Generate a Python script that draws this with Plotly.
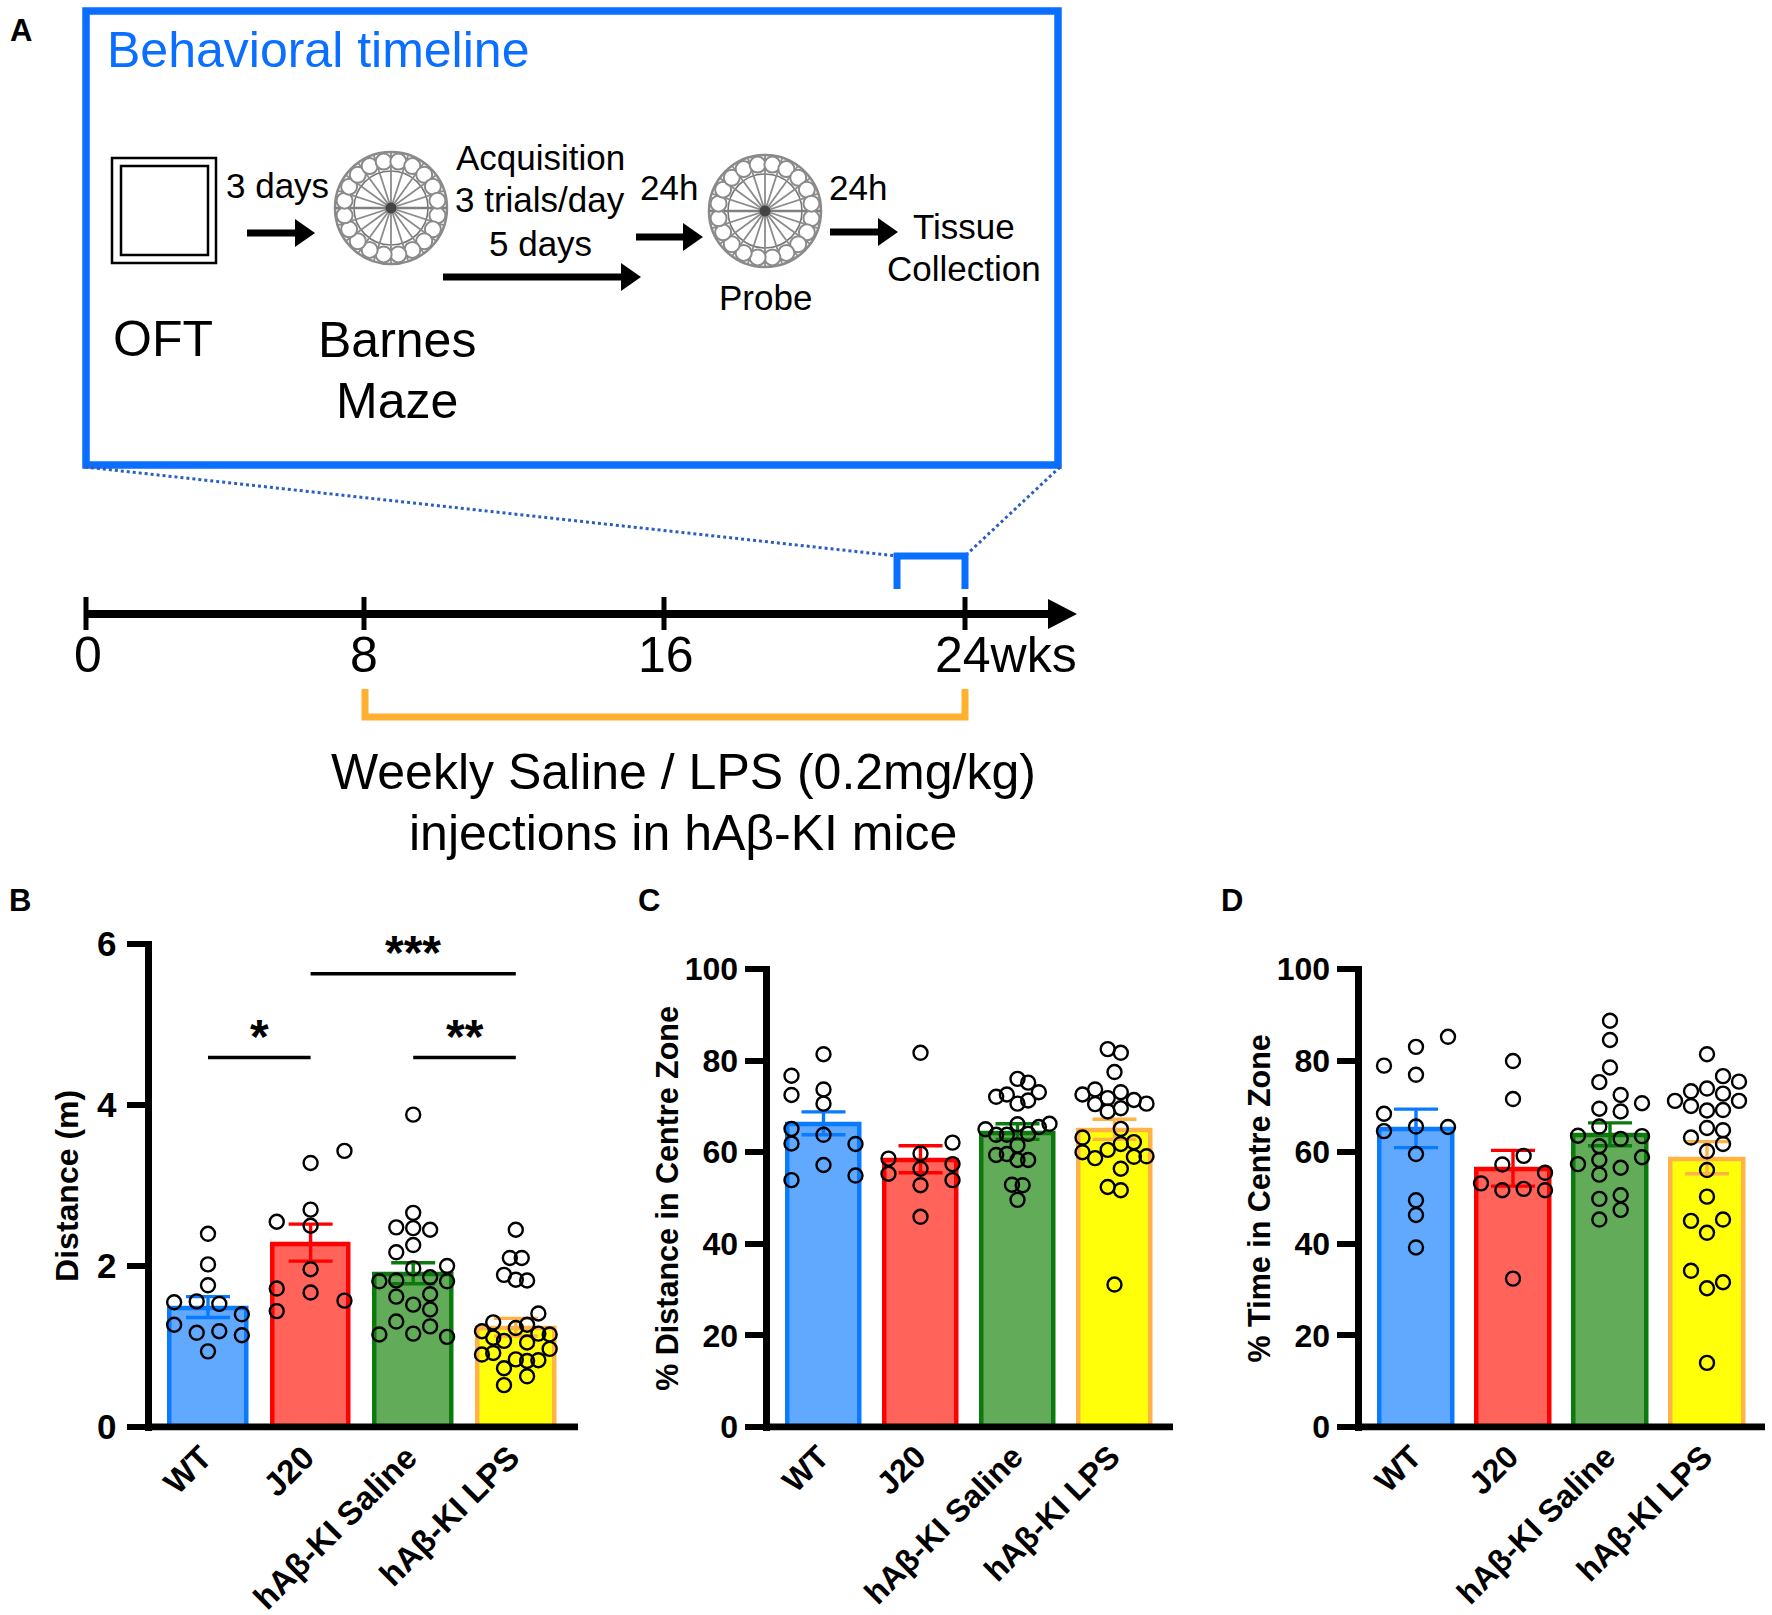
import math
import plotly.graph_objects as go

W, H = 1772, 1615

# ---------- data ----------
categories = ["WT", "J20", "hAβ-KI Saline", "hAβ-KI LPS"]

dist_means = [1.47, 2.27, 1.90, 1.23]
dist_low = [1.36, 2.06, 1.78, 1.13]
dist_high = [1.62, 2.52, 2.04, 1.35]
dist_wt_y = [2.40, 2.02, 1.76, 1.55, 1.56, 1.53, 1.40, 1.27, 1.17, 1.19, 1.14, 0.94]
dist_wt_off = [0, 0, 0, -.33, -.11, .11, .33, -.33, -.11, .11, .33, 0]
dist_j20_y = [3.43, 3.28, 2.70, 2.55, 2.50, 1.96, 1.72, 1.67, 1.57, 1.44]
dist_j20_off = [.33, 0, 0, -.33, 0, 0, -.33, 0, .33, -.33]
dist_sal_y = [3.88, 2.66, 2.48, 2.47, 2.45, 2.26, 2.17, 1.97, 2.00, 1.81, 1.82, 1.86, 1.81, 1.62, 1.65, 1.52, 1.46, 1.31, 1.25, 1.15, 1.16, 1.12]
dist_sal_off = [0, 0, -.165, 0, .165, 0, -.165, 0, .33, -.33, -.165, .165, .33, -.165, .165, 0, .165, -.165, .165, -.33, 0, .33]
dist_lps_y = [2.45, 2.10, 2.10, 1.89, 1.83, 1.82, 1.41, 1.30, 1.23, 1.27, 1.19, 1.16, 1.15, 1.11, 1.07, 1.05, .90, .92, .97, .84, .82, .83, .73, .63, .52]
dist_lps_off = [0, -.058, .058, -.115, 0, .11, .22, -.22, 0, .11, -.33, .22, .33, -.22, -.115, .11, -.33, -.22, .33, 0, .11, .22, -.115, .11, -.115]

cdist_means = [66.0, 58.2, 64.2, 64.8]
cdist_low = [63.8, 55.5, 62.8, 62.8]
cdist_high = [68.8, 61.4, 66.2, 67.2]
cdist_wt_y = [81.4, 76.7, 72.5, 73.7, 70.6, 65.1, 61.9, 63.8, 61.8, 57.2, 53.9, 54.9]
cdist_wt_off = [0, -.33, -.33, 0, 0, -.33, -.33, 0, .33, 0, -.33, .33]
cdist_j20_y = [81.7, 62.1, 59.7, 58.6, 57.4, 56.4, 55.3, 53.9, 52.8, 45.9]
cdist_j20_off = [0, .33, 0, -.33, .33, 0, -.33, .33, 0, 0]
cdist_sal_y = [76.0, 75.2, 73.1, 72.6, 72.1, 71.3, 70.6, 66.2, 66.1, 65.5, 65.0, 63.8, 63.8, 64.0, 61.5, 59.4, 59.6, 58.3, 58.3, 52.9, 52.8, 49.6]
cdist_sal_off = [0, .11, .22, -.11, -.22, .11, 0, .33, 0, .22, -.33, -.22, -.11, .11, 0, -.22, -.11, 0, .11, -.057, .053, 0]
cdist_lps_y = [82.5, 81.7, 77.5, 73.7, 72.6, 73.1, 71.8, 71.4, 70.5, 70.6, 69.6, 68.9, 65.1, 63.2, 62.2, 61.8, 60.5, 60.0, 58.7, 59.0, 59.1, 56.4, 52.4, 51.7, 31.1]
cdist_lps_off = [-.07, .065, 0, -.2, -.33, .065, -.07, .2, -.2, .33, .065, -.07, .065, -.33, .2, .065, -.07, -.33, -.2, .2, .33, .065, -.07, .065, 0]

ctime_means = [65.0, 56.2, 63.6, 58.5]
ctime_low = [61.0, 52.6, 61.4, 55.3]
ctime_high = [69.4, 60.4, 66.4, 62.3]
ctime_wt_y = [85.2, 83.0, 78.9, 76.9, 68.4, 64.6, 65.6, 65.5, 59.6, 49.5, 46.3, 39.2]
ctime_wt_off = [.33, 0, -.33, 0, -.33, -.33, 0, .33, 0, 0, 0, 0]
ctime_j20_y = [79.9, 71.6, 59.2, 57.3, 55.5, 53.2, 51.7, 52.0, 51.7, 32.4]
ctime_j20_off = [0, 0, .11, -.11, .33, -.33, -.11, .11, .33, 0]
ctime_sal_y = [88.7, 84.5, 78.5, 75.3, 72.5, 70.7, 69.5, 68.9, 65.6, 63.6, 62.9, 63.5, 61.3, 58.9, 57.4, 58.3, 56.6, 55.1, 49.8, 50.6, 47.4, 45.3]
ctime_sal_off = [0, 0, 0, -.11, .11, .33, -.11, .11, -.11, -.33, .11, .33, -.11, .33, -.33, -.11, .11, -.11, -.11, .11, .11, -.11]
ctime_lps_y = [81.4, 76.6, 75.4, 73.3, 73.9, 72.8, 71.2, 71.2, 70.1, 69.1, 69.2, 65.3, 64.8, 63.2, 61.8, 60.2, 56.1, 50.3, 45.0, 45.3, 42.4, 34.1, 31.6, 30.3, 14.0]
ctime_lps_off = [0, .165, .33, -.165, 0, .165, -.33, .33, -.165, 0, .165, 0, .165, -.165, .165, 0, 0, 0, -.165, .165, 0, -.165, .165, 0, 0]

sig_pairs = [(1, 3), (0, 1), (2, 3)]
sig_levels = [5.63, 4.59, 4.59]
sig_stars = ["***", "*", "**"]

week_ticks = [0, 8, 16, 24]
week_labels = ["0", "8", "16", "24wks"]

# ---------- styles ----------
FILL = ["#60a9ff", "#ff635a", "#62ab58", "#ffff0a"]
EDGE = ["#0a7aff", "#ff0000", "#0c7a0c", "#ffb347"]
BLUE = "#0a6eff"
ORANGE = "#ffb02e"
FONT = "Liberation Sans"

fig = go.Figure()
shapes, notes = [], []


def px(x):
    return x / W


def py(y):
    return 1 - y / H


def text(s, x, y, size, color="black", bold=False, anchor="center"):
    notes.append(dict(text=s, x=px(x), y=py(y), xref="paper", yref="paper", showarrow=False,
                      xanchor=anchor, yanchor="middle",
                      font=dict(family=FONT, size=size, color=color, weight=700 if bold else 400)))


def line(x0, y0, x1, y1, color="black", width=3, dash=None):
    shapes.append(dict(type="line", xref="paper", yref="paper", x0=px(x0), y0=py(y0), x1=px(x1), y1=py(y1),
                       line=dict(color=color, width=width, dash=dash)))


def rect(x0, y0, x1, y1, color="black", width=3):
    shapes.append(dict(type="rect", xref="paper", yref="paper", x0=px(x0), y0=py(y0), x1=px(x1), y1=py(y1),
                       line=dict(color=color, width=width), fillcolor="rgba(0,0,0,0)"))


def circle(cx, cy, r, color="#777", width=1.5, fill="rgba(0,0,0,0)"):
    shapes.append(dict(type="circle", xref="paper", yref="paper", x0=px(cx - r), x1=px(cx + r),
                       y0=py(cy - r), y1=py(cy + r), line=dict(color=color, width=width), fillcolor=fill))


def poly(points, color="rgba(0,0,0,0)", width=0, fill="black", close=True):
    d = "M " + " L ".join(f"{px(x):.5f},{py(y):.5f}" for x, y in points) + (" Z" if close else "")
    shapes.append(dict(type="path", xref="paper", yref="paper", path=d, fillcolor=fill,
                       line=dict(color=color, width=width)))


def arrow(x0, x1, y, head=20, half=14, width=7):
    line(x0, y, x1 - head + 1, y, width=width)
    poly([(x1 - head, y - half), (x1, y), (x1 - head, y + half)])


def maze(cx, cy):
    R, ring, holes, hr = 56, 37, 47, 8
    circle(cx, cy, R, color="#8a8a8a", width=2.5)
    circle(cx, cy, ring, color="#777", width=1.6)
    d = []
    for i in range(20):
        a = math.radians(i * 18)
        d.append(f"M {px(cx):.5f},{py(cy):.5f} L {px(cx + R * math.cos(a)):.5f},{py(cy + R * math.sin(a)):.5f}")
    shapes.append(dict(type="path", xref="paper", yref="paper", path=" ".join(d), line=dict(color="#8c8c8c", width=1.8)))
    line(cx - R, cy, cx + R, cy, color="#808080", width=2.6)
    for i in range(20):
        a = math.radians(9 + i * 18)
        circle(cx + holes * math.cos(a), cy + holes * math.sin(a), hr, color="#8a8a8a", width=2.0, fill="white")
    circle(cx, cy, 5, color="#444", width=1, fill="#444")


# ---------- panel A ----------
text("A", 21, 31, 31, bold=True)
rect(86, 11, 1058, 465, color=BLUE, width=7.5)
text("Behavioral timeline", 105, 50, 50, color=BLUE, anchor="left")
rect(112, 158, 216, 263, width=2.5)
rect(121, 166, 208, 255, width=2.5)
text("OFT", 163, 339, 50)
text("Barnes", 397, 340, 50)
text("Maze", 397, 401, 50)
text("3 days", 277, 186, 35)
arrow(247, 315, 233)
maze(391, 208)
text("Acquisition", 540, 157, 35)
text("3 trials/day", 540, 200, 35)
text("5 days", 540, 243, 35)
arrow(443, 641, 277)
text("24h", 669, 188, 35)
arrow(636, 703, 237)
maze(765, 211)
text("Probe", 765, 297, 35)
text("24h", 858, 188, 35)
arrow(830, 898, 232)
text("Tissue", 964, 226, 35)
text("Collection", 964, 268, 35)

line(85, 467, 897, 556, color="#2a5fc0", width=3, dash="dot")
line(1060, 467, 965, 556, color="#2a5fc0", width=3, dash="dot")
poly([(897, 589), (897, 556), (965, 556), (965, 589)], color=BLUE, width=7, fill="rgba(0,0,0,0)", close=False)

# timeline: weeks placed along a piecewise scale
week_px = [86, 364, 664, 965]
label_px = [88, 364, 666, 1006]
arrow(86, 1077, 614, head=29, half=15, width=8)
for wk, xp, lp, lab in zip(week_ticks, week_px, label_px, week_labels):
    line(xp, 597, xp, 630, width=5)
    text(lab, lp, 655, 50)
poly([(365, 689), (365, 717), (965, 717), (965, 689)], color=ORANGE, width=7, fill="rgba(0,0,0,0)", close=False)
text("Weekly Saline / LPS (0.2mg/kg)", 683, 772, 50)
text("injections in hAβ-KI mice", 683, 833, 50)

text("B", 20, 901, 31, bold=True)
text("C", 649, 901, 31, bold=True)
text("D", 1232, 901, 31, bold=True)


# ---------- bar panels ----------
def panel(n, axis_x, right_x, y0_px, ytop_px, ymax, ytick, c0, spacing, means, low, high, pts, ytitle, title_size,
          standoff, tick_size, xtick_size, xshift, label_gap):
    xa, ya = ("xaxis", "yaxis") if n == 1 else (f"xaxis{n}", f"yaxis{n}")
    xr, yr = ("x", "y") if n == 1 else (f"x{n}", f"y{n}")
    lw = 7
    left = axis_x + lw / 2
    bottom = y0_px + lw / 2
    top = ytop_px - 2.75
    scale = (y0_px - ytop_px) / ymax
    x_lo, x_hi = (left - c0) / spacing, (right_x - c0) / spacing
    bar_w = (81 * spacing / 102.6 - 4.5) / spacing
    for i, cat in enumerate(categories):
        fig.add_trace(go.Bar(x=[i], y=[means[i]], width=bar_w, xaxis=xr, yaxis=yr, showlegend=False,
                             marker=dict(color=FILL[i], line=dict(color=EDGE[i], width=4.5)),
                             error_y=dict(type="data", symmetric=False, array=[high[i] - means[i]],
                                          arrayminus=[means[i] - low[i]], color=EDGE[i], thickness=3.4, width=22)))
    # baseline drawn over the bar outlines, as in the reference
    fig.add_trace(go.Scatter(x=[x_lo, x_hi], y=[0, 0], mode="lines", xaxis=xr, yaxis=yr, showlegend=False,
                             hoverinfo="skip", line=dict(color="black", width=lw)))
    for i, (ys, offs) in enumerate(pts):
        fig.add_trace(go.Scatter(x=[i + o for o in offs], y=ys, mode="markers", xaxis=xr, yaxis=yr,
                                 showlegend=False, cliponaxis=False,
                                 marker=dict(symbol="circle", size=14, color="rgba(0,0,0,0)",
                                             line=dict(color="black", width=2.4))))
    fig.update_layout({
        xa: dict(domain=[left / W, right_x / W], range=[x_lo, x_hi],
                 anchor=yr, tickmode="array", tickvals=list(range(4)), ticktext=categories, tickangle=-45,
                 showgrid=False, zeroline=False, showline=False, ticks="", ticklabelshift=xshift,
                 tickfont=dict(family=FONT, size=xtick_size, color="black", weight=700)),
        ya: dict(domain=[1 - bottom / H, 1 - top / H], range=[-(lw / 2) / scale, ymax + 2.75 / scale],
                 anchor=xr, tickmode="array", tickvals=ytick, showgrid=False, zeroline=False,
                 showline=True, linecolor="black", linewidth=lw, ticks="outside", ticklen=18,
                 tickwidth=5.5, tickcolor="black", ticklabelstandoff=label_gap,
                 tickfont=dict(family=FONT, size=tick_size, color="black", weight=700),
                 title=dict(text=ytitle, standoff=standoff, font=dict(family=FONT, size=title_size, color="black", weight=700))),
    })


panel(1, 148, 578, 1427, 944, 6, [0, 2, 4, 6], 208, 102.6, dist_means, dist_low, dist_high,
      [(dist_wt_y, dist_wt_off), (dist_j20_y, dist_j20_off), (dist_sal_y, dist_sal_off), (dist_lps_y, dist_lps_off)],
      "Distance (m)", 32, 11, 35, 33, -6, 3)
panel(2, 766, 1173, 1427, 969, 100, [0, 20, 40, 60, 80, 100], 823.5, 97, cdist_means, cdist_low, cdist_high,
      [(cdist_wt_y, cdist_wt_off), (cdist_j20_y, cdist_j20_off), (cdist_sal_y, cdist_sal_off), (cdist_lps_y, cdist_lps_off)],
      "% Distance in Centre Zone", 30.5, 0, 32, 32, -4, 0)
panel(3, 1358, 1765, 1427, 969, 100, [0, 20, 40, 60, 80, 100], 1416, 97, ctime_means, ctime_low, ctime_high,
      [(ctime_wt_y, ctime_wt_off), (ctime_j20_y, ctime_j20_off), (ctime_sal_y, ctime_sal_off), (ctime_lps_y, ctime_lps_off)],
      "% Time in Centre Zone", 30.5, 0, 32, 32, -4, 0)

for (a, b), lev, st in zip(sig_pairs, sig_levels, sig_stars):
    fig.add_trace(go.Scatter(x=[a, b], y=[lev, lev], mode="lines", showlegend=False, xaxis="x", yaxis="y",
                             line=dict(color="black", width=3.6)))
    notes.append(dict(text=st, x=(a + b) / 2, y=lev + 0.26, xref="x", yref="y", showarrow=False, yanchor="middle",
                      font=dict(family=FONT, size=48, color="black", weight=700)))

fig.update_layout(width=W, height=H, margin=dict(l=0, r=0, t=0, b=0, autoexpand=False), paper_bgcolor="white",
                  plot_bgcolor="rgba(0,0,0,0)", barmode="overlay", bargap=0, showlegend=False,
                  shapes=shapes, annotations=notes, font=dict(family=FONT))

fig.write_html("out.html", config={"displayModeBar": False},
               post_script="document.body.style.margin='0';document.body.style.overflow='hidden';")
